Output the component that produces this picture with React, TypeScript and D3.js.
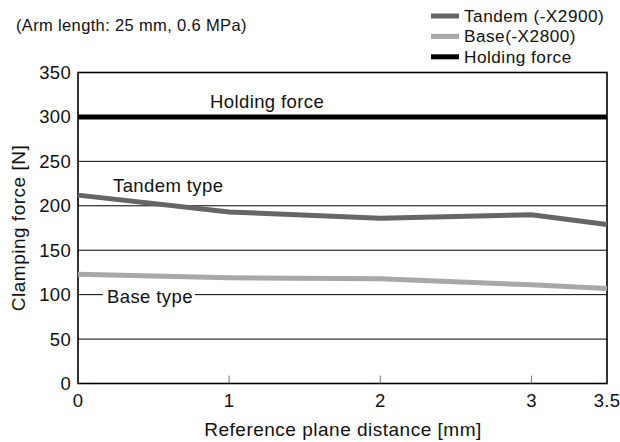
import React, { useEffect, useRef } from 'react';
import * as d3 from 'd3';

const distances = [0, 1, 2, 3, 3.5];
const tandemForce = [212, 193, 186, 190, 179];
const baseForce = [123, 119, 118, 111, 107];
const holdingForce = 300;
const yTicks = [0, 50, 100, 150, 200, 250, 300, 350];
const xTicks = [0, 1, 2, 3, 3.5];
const legendItems = [
  { label: 'Tandem (-X2900)', color: '#666666' },
  { label: 'Base(-X2800)', color: '#a8a8a8' },
  { label: 'Holding force', color: '#000000' },
];

const W = 620;
const H = 442;
const FONT = '"Liberation Sans", Arial, Helvetica, sans-serif';

const App: React.FC = () => {
  const svgRef = useRef<SVGSVGElement>(null);

  useEffect(() => {
    if (!svgRef.current) return;
    const svg = d3.select(svgRef.current);
    svg.selectAll('*').remove();

    const left = 78, right = 607, top = 72.5, bottom = 383.5;
    const x = d3.scaleLinear().domain([0, 3.5]).range([left, right]);
    const y = d3.scaleLinear().domain([0, 350]).range([bottom, top]);

    const txt = (sel: any, size: number, ls = 0.4) =>
      sel.attr('font-family', FONT)
        .attr('font-size', size)
        .attr('letter-spacing', ls)
        .attr('fill', '#111');

    // gridlines
    svg.append('g')
      .selectAll('line')
      .data(yTicks.filter(t => t > 0 && t < 350 && t !== holdingForce))
      .enter().append('line')
      .attr('x1', left).attr('x2', right)
      .attr('y1', d => y(d)).attr('y2', d => y(d))
      .attr('stroke', '#000').attr('stroke-width', 1);

    // x ticks (inside)
    svg.append('g')
      .selectAll('line')
      .data([1, 2, 3])
      .enter().append('line')
      .attr('x1', d => x(d)).attr('x2', d => x(d))
      .attr('y1', bottom).attr('y2', bottom - 8)
      .attr('stroke', '#777').attr('stroke-width', 1);

    // frame
    svg.append('rect')
      .attr('x', left).attr('y', top)
      .attr('width', right - left).attr('height', bottom - top)
      .attr('fill', 'none').attr('stroke', '#000').attr('stroke-width', 1.6);

    // in-chart labels, optional white background
    const label = (text: string, lx: number, ly: number, bg: boolean) => {
      const t = txt(svg.append('text'), 18.5)
        .attr('x', lx).attr('y', ly)
        .attr('dominant-baseline', 'central')
        .text(text);
      if (bg) {
        const bb = (t.node() as SVGTextElement).getBBox();
        svg.insert('rect', 'text')
          .attr('x', bb.x - 4).attr('y', bb.y)
          .attr('width', bb.width + 6).attr('height', bb.height)
          .attr('fill', '#fff');
      }
    };

    const line = d3.line<number>()
      .x((_, i) => x(distances[i]))
      .y(d => y(d));

    svg.append('path')
      .datum(baseForce)
      .attr('fill', 'none').attr('stroke', '#a8a8a8').attr('stroke-width', 5)
      .attr('d', line);

    svg.append('path')
      .datum(tandemForce)
      .attr('fill', 'none').attr('stroke', '#666666').attr('stroke-width', 5)
      .attr('d', line);

    svg.append('line')
      .attr('x1', left).attr('x2', right)
      .attr('y1', y(holdingForce)).attr('y2', y(holdingForce))
      .attr('stroke', '#000').attr('stroke-width', 5);

    label('Holding force', 210, 101, false);
    label('Tandem type', 113, 185, false);
    label('Base type', 107, 296, true);

    // y tick labels
    txt(svg.append('g'), 18.5, 0.3)
      .selectAll('text')
      .data(yTicks)
      .enter().append('text')
      .attr('x', 71).attr('y', d => y(d))
      .attr('dy', '0.35em')
      .attr('text-anchor', 'end')
      .text(d => d);

    // x tick labels
    txt(svg.append('g'), 18.5, 0.3)
      .selectAll('text')
      .data(xTicks)
      .enter().append('text')
      .attr('x', d => x(d)).attr('y', bottom + 23)
      .attr('text-anchor', 'middle')
      .text(d => d);

    // axis titles
    txt(svg.append('text'), 19, 0.5)
      .attr('x', 343).attr('y', 436)
      .attr('text-anchor', 'middle')
      .text('Reference plane distance [mm]');

    txt(svg.append('text'), 19, 0.5)
      .attr('transform', `translate(25, ${(top + bottom) / 2}) rotate(-90)`)
      .attr('text-anchor', 'middle')
      .text('Clamping force [N]');

    // subtitle
    txt(svg.append('text'), 16.5, 0.35)
      .attr('x', 16).attr('y', 25)
      .attr('dy', '0.35em')
      .text('(Arm length: 25 mm, 0.6 MPa)');

    // legend
    const lg = svg.append('g')
      .selectAll('g')
      .data(legendItems)
      .enter().append('g')
      .attr('transform', (_, i) => `translate(431, ${16 + i * 20.4})`);
    lg.append('rect')
      .attr('x', 0).attr('y', -2.5)
      .attr('width', 28).attr('height', 5)
      .attr('fill', d => d.color);
    txt(lg.append('text'), 17.2, 0.5)
      .attr('x', 33).attr('y', 0)
      .attr('dy', '0.35em')
      .text(d => d.label);
  }, []);

  return (
    <svg
      ref={svgRef}
      width={W}
      height={H}
      style={{ position: 'absolute', left: 0, top: 0, background: '#fff' }}
    />
  );
};

export default App;
